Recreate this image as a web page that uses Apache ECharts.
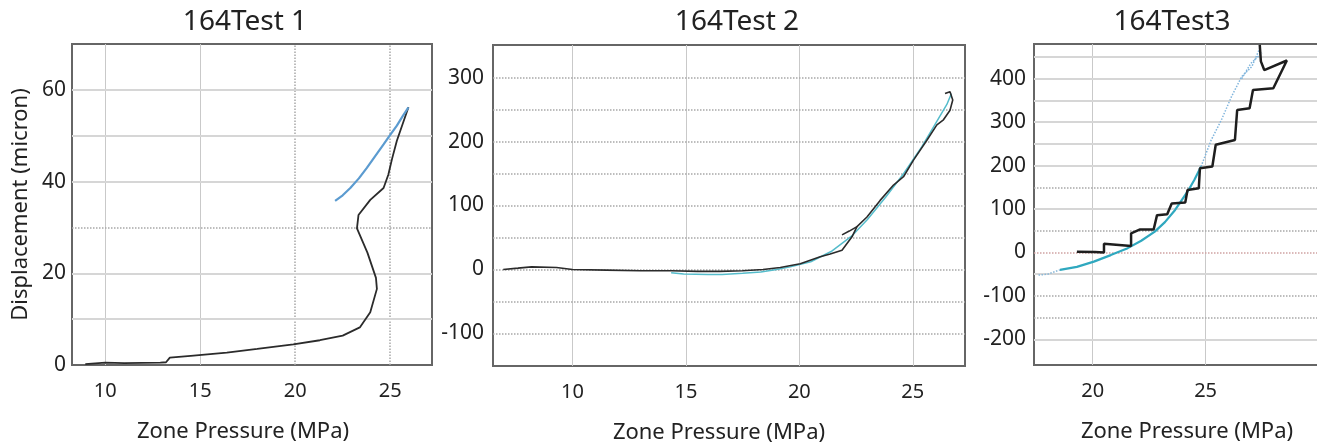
<!DOCTYPE html>
<html>
<head>
<meta charset="utf-8">
<script src="https://cdn.jsdelivr.net/npm/echarts@6/dist/echarts.min.js"></script>
<style>
html,body{margin:0;padding:0;background:#fff;}
#c{width:1317px;height:442px;}
</style>
</head>
<body>
<div id="c"></div>
<script>
// ---------- Titles / labels ----------
const titles = ['164Test 1', '164Test 2', '164Test3'];
const xName = 'Zone Pressure (MPa)';
const yName = 'Displacement (micron)';

// ---------- Panel 1 (164Test 1) ----------
const p1BlackX = [8.95, 10.0, 11.0, 12.9, 13.2, 13.4, 14.5, 16.4, 18.0, 19.9, 21.3, 22.5, 23.4, 23.95, 24.3, 24.25, 23.8, 23.25, 23.33, 23.95, 24.65, 24.9, 25.1, 25.35, 25.65, 25.96];
const p1BlackY = [0.2, 0.5, 0.4, 0.5, 0.6, 1.6, 2.0, 2.7, 3.5, 4.5, 5.4, 6.4, 8.2, 11.5, 16.6, 19.0, 24.5, 29.8, 32.7, 36.0, 38.6, 41.5, 45.0, 48.9, 52.5, 56.2];
const p1BlueX = [22.1, 22.5, 22.9, 23.35, 23.77, 24.2, 24.65, 25.0, 25.35, 25.65, 25.96];
const p1BlueY = [35.8, 37.0, 38.6, 40.7, 43.0, 45.5, 48.1, 50.2, 52.2, 54.2, 56.2];
const p1GridXSolid = [10, 15];
const p1GridXDotted = [20, 25];
const p1GridYSolid = [10, 20, 40, 50, 60];
const p1GridYDotted = [30];

// ---------- Panel 2 (164Test 2) ----------
const p2BlackX = [6.95, 7.6, 8.2, 9.3, 10.0, 11.5, 13.0, 14.35, 15.5, 16.5, 17.5, 18.4, 19.16, 20.04, 20.92, 21.36, 21.88, 22.32, 22.54, 22.98, 23.56, 24.15, 24.59, 25.03, 25.62, 26.06, 26.35, 26.64, 26.76, 26.64, 26.42];
const p2BlackY = [0, 2, 4, 3, 0, -1, -2, -2, -3, -3, -2, 0, 3, 9, 20, 24, 30, 51, 67, 82, 108, 132, 145, 171, 202, 226, 234, 249, 265, 278, 275];
const p2Black2X = [21.88, 22.2, 22.54];
const p2Black2Y = [54, 60, 67];
const p2BlueX = [14.35, 14.9, 15.97, 16.6, 17.5, 18.3, 19.0, 19.6, 20.5, 21.4, 22.3, 23.0, 23.8, 24.6, 25.4, 26.0, 26.5, 26.7];
const p2BlueY = [-5, -7, -8, -8, -6, -4, 0, 4, 12, 28, 52, 78, 113, 150, 192, 228, 258, 275];
const p2GridXSolid = [10, 15, 20, 25];
const p2GridYDotted = [-100, -50, 0, 50, 100, 150, 200, 250, 300];

// ---------- Panel 3 (164Test3) ----------
const p3BlackX = [19.3, 20.1, 20.5, 20.5, 21.7, 21.7, 22.1, 22.7, 22.85, 23.3, 23.5, 24.1, 24.2, 24.7, 24.75, 25.3, 25.45, 26.3, 26.4, 26.95, 27.1, 28.0, 28.6, 27.6, 27.45, 27.4];
const p3BlackY = [2, 1, 0, 20, 15, 44, 53, 53, 86, 88, 113, 115, 144, 148, 194, 198, 248, 259, 328, 332, 374, 378, 442, 420, 440, 478];
const p3BlueSolidX = [18.55, 19.3, 20.05, 20.8, 21.55, 22.15, 22.75, 23.2, 23.65, 24.2, 24.5, 24.8];
const p3BlueSolidY = [-40, -33, -21, -6, 10, 27, 48, 70, 98, 140, 167, 198];
const p3BlueLeadX = [17.6, 18.0, 18.55];
const p3BlueLeadY = [-52, -50, -40];
const p3BlueTopX = [24.8, 25.25, 25.7, 26.15, 26.6, 27.05, 27.4];
const p3BlueTopY = [198, 259, 305, 359, 405, 428, 470];
const p3BlueTop2X = [26.6, 27.0, 27.5];
const p3BlueTop2Y = [400, 435, 460];
const p3GridXSolid = [20, 25];
const p3GridYSolid = [450, 400, 350, 300, 250, 200, 100, -50, -200];
const p3GridYDotted = [150, 50, -100, -150];
const p3GridYZero = [0];

// ---------- helpers ----------
const zip = (xs, ys) => xs.map((x, i) => [x, ys[i]]);
const FONT = 'Noto Sans';

const solidGrid = { color: '#d6d6d6', width: 2, type: 'solid' };
const thinGrid = { color: '#c9c9c9', width: 1, type: 'solid' };
const dottedGrid = { color: '#a8a8a8', width: 1.5, type: 'dotted' };
const redDotted = { color: '#cfa3a3', width: 1.5, type: 'dotted' };

function gridLines(xs, ys) {
  const out = [];
  (xs || []).forEach(g => g.vals.forEach(v => out.push({ xAxis: v, lineStyle: g.style })));
  (ys || []).forEach(g => g.vals.forEach(v => out.push({ yAxis: v, lineStyle: g.style })));
  return out;
}

function mkLine(idx, data, color, width, type, extra) {
  return Object.assign({
    type: 'line', xAxisIndex: idx, yAxisIndex: idx, data: data,
    showSymbol: false, symbol: 'none', smooth: false, z: 3,
    lineStyle: { color: color, width: width, type: type || 'solid' },
    animation: false, silent: true
  }, extra || {});
}

function markGrid(lines) {
  return {
    silent: true, symbol: ['none', 'none'], label: { show: false },
    animation: false, z: 1, emphasis: { disabled: true },
    data: lines
  };
}

function xAxisCfg(idx, min, max, step, namePad) {
  return {
    type: 'value', gridIndex: idx, min: min, max: max,
    minInterval: step, maxInterval: step,
    axisLine: { show: false }, axisTick: { show: false }, splitLine: { show: false },
    axisLabel: {
      margin: 16, fontFamily: FONT, fontSize: 20, color: '#222',
      formatter: v => (Math.abs(v / step - Math.round(v / step)) < 1e-6 ? String(Math.round(v)) : '')
    },
    name: xName, nameLocation: 'middle', nameGap: 56,
    nameTextStyle: { fontFamily: FONT, fontSize: 22, color: '#222', padding: namePad }
  };
}

function yAxisCfg(idx, min, max, step, margin, withName) {
  const a = {
    type: 'value', gridIndex: idx, min: min, max: max,
    minInterval: step, maxInterval: step,
    axisLine: { show: false }, axisTick: { show: false }, splitLine: { show: false },
    axisLabel: {
      margin: margin, fontFamily: FONT, fontSize: 21, color: '#222',
      formatter: v => (Math.abs(v / step - Math.round(v / step)) < 1e-6 ? String(Math.round(v)) : '')
    }
  };
  if (withName) {
    a.name = yName; a.nameLocation = 'middle'; a.nameGap = 40;
    a.nameTextStyle = { fontFamily: FONT, fontSize: 22, color: '#222' };
  }
  return a;
}

const gridBox = { show: true, borderColor: '#666', borderWidth: 2, backgroundColor: '#fff',
                  containLabel: false, outerBoundsMode: 'none' };
const titleStyle = { fontFamily: FONT, fontSize: 28, fontWeight: 'normal', color: '#222' };

const option = {
  backgroundColor: '#fff',
  animation: false,
  title: [
    { text: titles[0], left: 245, top: 8, textAlign: 'center', padding: 0, textStyle: titleStyle },
    { text: titles[1], left: 737, top: 8, textAlign: 'center', padding: 0, textStyle: titleStyle },
    { text: titles[2], left: 1172, top: 8, textAlign: 'center', padding: 0, textStyle: titleStyle }
  ],
  grid: [
    Object.assign({ left: 72, top: 44, width: 360, height: 321 }, gridBox),
    Object.assign({ left: 493, top: 45, width: 472, height: 321 }, gridBox),
    Object.assign({ left: 1034, top: 44, width: 284, height: 321 }, gridBox)
  ],
  xAxis: [
    xAxisCfg(0, 8.25, 27.2, 5, [0, 18, 0, 0]),
    xAxisCfg(1, 6.5, 27.3, 5, [0, 20, 0, 0]),
    xAxisCfg(2, 17.4, 29.98, 5, [0, 0, 0, 22])
  ],
  yAxis: [
    yAxisCfg(0, 0, 70, 20, 6, true),
    yAxisCfg(1, -151, 351, 100, 9, false),
    yAxisCfg(2, -259, 480, 100, 8, false)
  ],
  series: [
    // Panel 1
    mkLine(0, zip(p1BlackX, p1BlackY), '#2b2b2b', 1.8, 'solid', {
      markLine: markGrid(gridLines(
        [{ vals: p1GridXSolid, style: thinGrid }, { vals: p1GridXDotted, style: dottedGrid }],
        [{ vals: p1GridYSolid, style: solidGrid }, { vals: p1GridYDotted, style: dottedGrid }]))
    }),
    mkLine(0, zip(p1BlueX, p1BlueY), '#5b9bd0', 2.2),
    // Panel 2
    mkLine(1, zip(p2BlueX, p2BlueY), '#55bccb', 1.5, 'solid', {
      markLine: markGrid(gridLines(
        [{ vals: p2GridXSolid, style: thinGrid }],
        [{ vals: p2GridYDotted, style: dottedGrid }]))
    }),
    mkLine(1, zip(p2BlackX, p2BlackY), '#2b2b2b', 1.6),
    mkLine(1, zip(p2Black2X, p2Black2Y), '#2b2b2b', 1.6),
    // Panel 3
    mkLine(2, zip(p3BlueLeadX, p3BlueLeadY), '#8ab8d8', 1.5, 'dotted', {
      markLine: markGrid(gridLines(
        [{ vals: p3GridXSolid, style: thinGrid }],
        [{ vals: p3GridYSolid, style: solidGrid }, { vals: p3GridYDotted, style: dottedGrid },
         { vals: p3GridYZero, style: redDotted }]))
    }),
    mkLine(2, zip(p3BlueTopX, p3BlueTopY), '#7fb4dc', 1.5, 'dotted'),
    mkLine(2, zip(p3BlueTop2X, p3BlueTop2Y), '#7fb4dc', 1.5, 'dotted'),
    mkLine(2, zip(p3BlueSolidX, p3BlueSolidY), '#2fa8bf', 2.2),
    mkLine(2, zip(p3BlackX, p3BlackY), '#1e1e1e', 2.5)
  ]
};

const chart = echarts.init(document.getElementById('c'), null, { renderer: 'canvas' });
chart.setOption(option);
</script>
</body>
</html>
